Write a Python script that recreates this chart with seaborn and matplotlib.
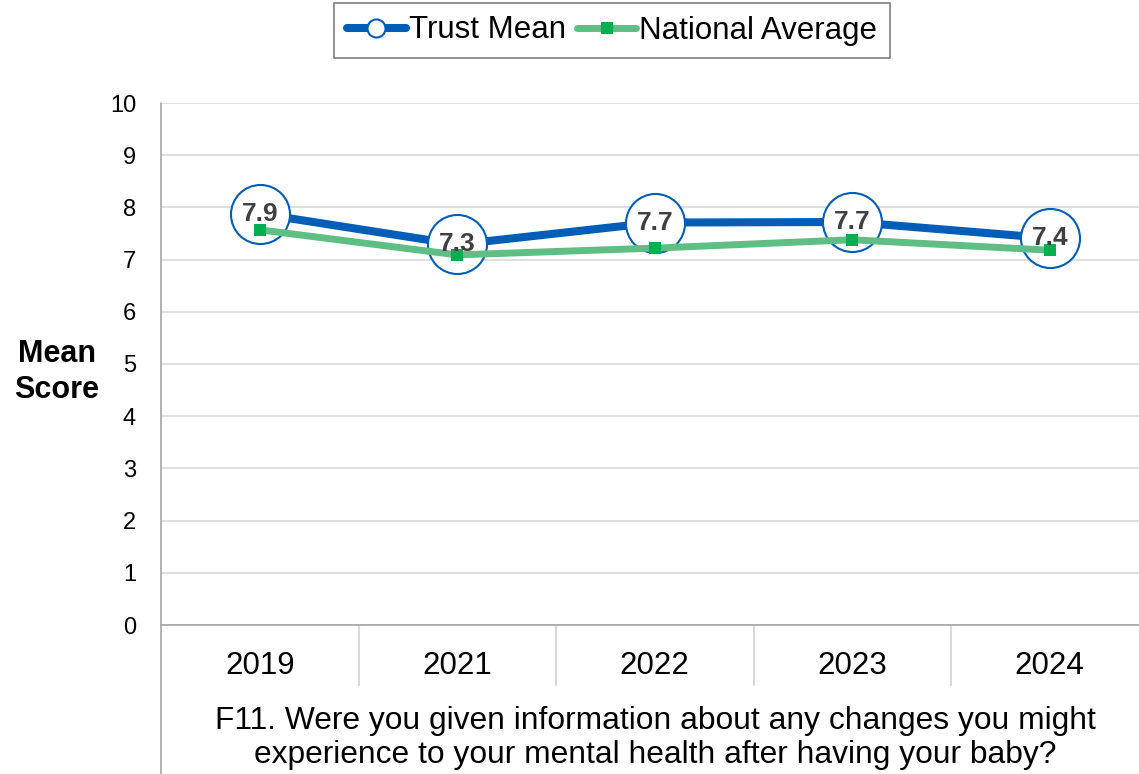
import numpy as np
import pandas as pd
import matplotlib
matplotlib.use("Agg")
import matplotlib.pyplot as plt
import seaborn as sns
from matplotlib.lines import Line2D

years = ["2019", "2021", "2022", "2023", "2024"]
trust_mean = [7.88, 7.29, 7.71, 7.72, 7.41]
national_avg = [7.57, 7.09, 7.22, 7.38, 7.18]
y_ticks = list(range(0, 11))
series_names = ["Trust Mean", "National Average"]
y_label = "Mean\nScore"
question = ("F11. Were you given information about any changes you might\n"
            "experience to your mental health after having your baby?")

BLUE = "#005EB8"
GREEN_LINE = "#5FBE84"
GREEN_MARK = "#00B050"
GRID = "#D9D9D9"
AXIS = "#A6A6A6"

sns.set_theme(style="white")
plt.rcParams['font.family'] = ['Liberation Sans', 'DejaVu Sans']
plt.rcParams['text.color'] = 'black'
plt.rcParams['xtick.color'] = 'black'
plt.rcParams['ytick.color'] = 'black'

df = pd.DataFrame({"pos": np.arange(len(years)), "year": years,
                   "trust": trust_mean, "national": national_avg})

W, H = 1139, 774
fig = plt.figure(figsize=(W / 100, H / 100), dpi=100)
ax = fig.add_axes([161 / W, 1 - 625 / H, 987.5 / W, 522 / H])

sns.lineplot(data=df, x="pos", y="trust", ax=ax, color=BLUE, linewidth=5.8,
             marker="o", markersize=42.5, markerfacecolor="white",
             markeredgecolor=BLUE, markeredgewidth=1.5, zorder=3)
sns.lineplot(data=df, x="pos", y="national", ax=ax, color=GREEN_LINE, linewidth=5,
             marker="s", markersize=8.6, markerfacecolor=GREEN_MARK,
             markeredgecolor=GREEN_MARK, markeredgewidth=0, zorder=4)

for i, v in enumerate(trust_mean):
    ax.text(i, v, f"{v:.1f}", ha="center", va="center", fontsize=19,
            fontweight="bold", color="#404040", zorder=5)

ax.set_xlim(-0.5, len(years) - 0.5)
ax.set_ylim(0, 10)
ax.set_yticks(y_ticks)
ax.set_yticklabels([str(t) for t in y_ticks], fontsize=17, color="black")
ax.set_xticks(np.arange(len(years)))
ax.set_xticklabels(years, fontsize=22.5, color="black")
ax.tick_params(axis="y", length=0, pad=18)
ax.tick_params(axis="x", length=0, pad=19)
ax.set_xlabel("")
ax.set_ylabel("")
ax.yaxis.grid(True, color=GRID, linewidth=1.2)
ax.xaxis.grid(False)
for s in ["top", "right", "left"]:
    ax.spines[s].set_visible(False)
ax.spines["bottom"].set_color(AXIS)
ax.spines["bottom"].set_linewidth(1.2)

# category separators below axis
sep_len = 60 / 52.2
for b in np.arange(0.5, len(years) - 0.5, 1):
    ax.plot([b, b], [0, -sep_len], color=GRID, linewidth=1.5, clip_on=False)
# left axis line extending through label area
ax.plot([-0.5, -0.5], [10, -(H - 625) / 52.2], color=AXIS, linewidth=1.2,
        clip_on=False)

fig.text(655 / W, 1 - 738 / H, question, ha="center", va="center",
         fontsize=22.9, linespacing=1.2, color="black")
fig.text(57 / W, 1 - 372 / H, y_label, ha="center", va="center",
         fontsize=22, fontweight="bold", linespacing=1.3, color="black")

handles = [
    Line2D([], [], color=BLUE, linewidth=5.8, marker="o", markersize=13,
           markerfacecolor="white", markeredgecolor=BLUE, markeredgewidth=1.5),
    Line2D([], [], color=GREEN_LINE, linewidth=5, marker="s", markersize=9,
           markerfacecolor=GREEN_MARK, markeredgecolor=GREEN_MARK, markeredgewidth=0),
]
leg = fig.legend(handles, series_names, loc="center",
                 bbox_to_anchor=(612 / W, 1 - 30.5 / H), ncol=2, fontsize=22.5,
                 handlelength=1.9, handletextpad=0.1, columnspacing=0.35,
                 borderpad=0.4, borderaxespad=0, fancybox=False, framealpha=1,
                 edgecolor="#7F7F7F", labelcolor="black")
leg.get_frame().set_linewidth(1.2)

fig.savefig("out.png", dpi=100)
